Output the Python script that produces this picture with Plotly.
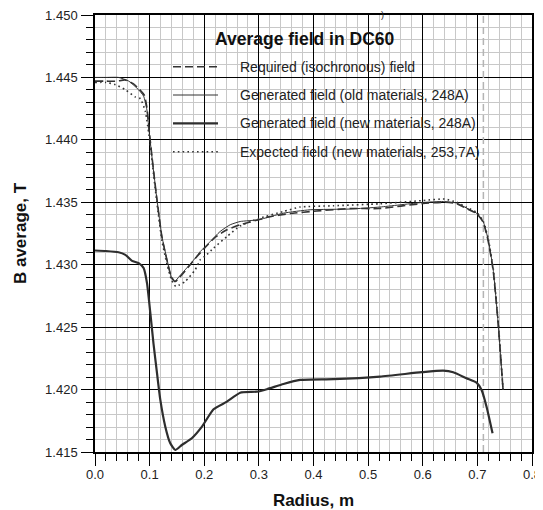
import plotly.graph_objects as go

# ---------------- data ----------------
r_required = [0, 0.02, 0.04, 0.055, 0.07, 0.08, 0.09, 0.095, 0.1, 0.107, 0.1135, 0.1226, 0.132, 0.14,
              0.147, 0.155, 0.165, 0.1835, 0.202, 0.22, 0.2415, 0.2658, 0.2993, 0.3146, 0.357, 0.406,
              0.467, 0.52, 0.6, 0.64, 0.662, 0.68, 0.6985, 0.7106, 0.7198, 0.729, 0.738, 0.747]
b_required = [1.4447, 1.4447, 1.4447, 1.4448, 1.4445, 1.4441, 1.4436, 1.4426, 1.4404, 1.4376, 1.4352,
              1.4322, 1.4303, 1.4290, 1.42865, 1.4290, 1.4295, 1.4305, 1.4314, 1.4322, 1.4328, 1.4332,
              1.4336, 1.4338, 1.4341, 1.4343, 1.4345, 1.4345, 1.4349, 1.4350, 1.4349, 1.4345, 1.4341,
              1.4334, 1.4319, 1.4295, 1.4253, 1.4200]

r_old = [0, 0.02, 0.043, 0.062, 0.08, 0.089, 0.095, 0.1, 0.107, 0.1135, 0.1226, 0.132, 0.1397, 0.1458,
         0.155, 0.165, 0.1835, 0.1927, 0.202, 0.211, 0.229, 0.2475, 0.2658, 0.2993, 0.345, 0.3938,
         0.467, 0.5217, 0.598, 0.6375, 0.662, 0.68, 0.6985, 0.7106, 0.7198, 0.729, 0.738, 0.747]
b_old = [1.4450, 1.4450, 1.4450, 1.4447, 1.4440, 1.4435, 1.4424, 1.4403, 1.4376, 1.4352, 1.43226,
         1.4304, 1.4290, 1.42865, 1.4291, 1.42959, 1.43053, 1.43106, 1.43146, 1.43186, 1.43266,
         1.4332, 1.43346, 1.4336, 1.43413, 1.4344, 1.43446, 1.43462, 1.43498, 1.43506, 1.43494,
         1.43454, 1.43413, 1.43346, 1.4320, 1.42959, 1.42532, 1.41997]

r_new = [0, 0.02, 0.043, 0.0556, 0.0678, 0.08, 0.089, 0.0952, 0.1013, 0.107, 0.1135, 0.1196, 0.1287,
         0.1378, 0.147, 0.159, 0.1772, 0.1958, 0.217, 0.2415, 0.2658, 0.2963, 0.3146, 0.345, 0.3755,
         0.4364, 0.5217, 0.598, 0.6375, 0.6558, 0.68, 0.6985, 0.7077, 0.7168, 0.7278]
b_new = [1.43114, 1.4311, 1.4310, 1.43079, 1.43031, 1.43013, 1.42973, 1.42852, 1.42612, 1.42371,
         1.42131, 1.41917, 1.41703, 1.4157, 1.41516, 1.41556, 1.4161, 1.41703, 1.41842, 1.41903,
         1.41975, 1.41983, 1.42003, 1.42045, 1.42077, 1.42083, 1.42104, 1.42139, 1.42152, 1.42139,
         1.42091, 1.42056, 1.41997, 1.41863, 1.4165]

r_expected = [0, 0.02, 0.0373, 0.0556, 0.0739, 0.083, 0.092, 0.1, 0.107, 0.1135, 0.1226, 0.132, 0.14,
              0.148, 0.155, 0.165, 0.1835, 0.1927, 0.202, 0.217, 0.2415, 0.2658, 0.2993, 0.345,
              0.3755, 0.4364, 0.5217, 0.6, 0.64, 0.662, 0.68, 0.6985, 0.7106, 0.7198, 0.729, 0.738, 0.747]
b_expected = [1.4446, 1.4446, 1.44442, 1.44402, 1.44343, 1.4433, 1.4423, 1.4400, 1.4373, 1.4349,
              1.4319, 1.4300, 1.4288, 1.42825, 1.4284, 1.42865, 1.4296, 1.43039, 1.4307, 1.43133,
              1.43226, 1.4331, 1.4337, 1.43426, 1.43462, 1.43472, 1.43488, 1.43514, 1.43526, 1.4350,
              1.4346, 1.4342, 1.4335, 1.4321, 1.4297, 1.4255, 1.4200]

limit_radius = 0.711

series_names = ["Required (isochronous) field",
                "Generated field (old materials, 248A)",
                "Generated field (new materials, 248A)",
                "Expected field (new materials, 253,7A)"]

x_range = [0, 0.8]
y_range = [1.415, 1.450]

# ---------------- styling ----------------
FONT = "Liberation Sans, Arial, sans-serif"
LINE_C = "#333333"
styles = [
    dict(color=LINE_C, width=1.6, dash="8px,4px"),
    dict(color=LINE_C, width=1.0, dash="solid"),
    dict(color="#2e2e2e", width=2.2, dash="solid"),
    dict(color=LINE_C, width=1.6, dash="1.6px,3.2px"),
]
data = [(r_required, b_required), (r_old, b_old), (r_new, b_new), (r_expected, b_expected)]

fig = go.Figure()

fig.add_trace(go.Scatter(x=[limit_radius, limit_radius], y=y_range, mode="lines",
                         line=dict(color="#b4b4b4", width=1.5, dash="7px,4px"),
                         showlegend=False, hoverinfo="skip"))

for (xs, ys), st, nm in zip(data, styles, series_names):
    fig.add_trace(go.Scatter(x=xs, y=ys, mode="lines", name=nm, line=st,
                             line_shape="spline", line_smoothing=0.5, showlegend=False))

# page body has an 8px default margin; figure is sized to compensate
OFF = 8
W, H = 543 - OFF, 510 - OFF
L, R, T, B = 95 - OFF, 11, 15 - OFF, 58
pw, ph = W - L - R, H - T - B

def px_x(p):  # page pixel -> paper x
    return (p - OFF - L) / pw

def px_y(p):  # page pixel -> paper y
    return 1 - (p - OFF - T) / ph

# manual legend (sample lines + labels)
shapes = []
annotations = []
rows = [66.7, 95, 123.3, 151.7]
for yy, st, nm in zip(rows, styles, series_names):
    shapes.append(dict(type="line", xref="paper", yref="paper",
                       x0=px_x(173), x1=px_x(218), y0=px_y(yy), y1=px_y(yy),
                       line=dict(color=st["color"], width=st["width"], dash=st["dash"])))
    annotations.append(dict(xref="paper", yref="paper", x=px_x(238), y=px_y(yy),
                            xanchor="left", yanchor="middle", showarrow=False, text=nm,
                            font=dict(family=FONT, size=14, color="#222222")))

annotations.append(dict(xref="paper", yref="paper", x=px_x(305), y=px_y(39),
                        xanchor="center", yanchor="middle", showarrow=False,
                        text="Average field in DC60",
                        font=dict(family=FONT, size=17.5, color="#111111", weight="bold")))
annotations.append(dict(xref="paper", yref="paper", x=px_x(386), y=px_y(8),
                        xanchor="right", yanchor="top", showarrow=False, text=")",
                        font=dict(family=FONT, size=9, color="#222222")))

axis_common = dict(showline=True, linecolor="black", linewidth=1.5, mirror=True,
                   ticks="outside", ticklen=12, tickwidth=1, tickcolor="black",
                   showgrid=True, gridcolor="#000000", gridwidth=1, zeroline=False,
                   automargin=False, ticklabeloverflow="allow",
                   tickfont=dict(family=FONT, size=13, color="#222222"))

fig.update_layout(
    width=W, height=H,
    margin=dict(l=L, r=R, t=T, b=B, autoexpand=False),
    paper_bgcolor="white", plot_bgcolor="white",
    showlegend=False,
    shapes=shapes, annotations=annotations,
    xaxis=dict(range=x_range, dtick=0.1, tick0=0, tickformat=".1f", ticklabelstandoff=-2,
               minor=dict(dtick=0.02, ticklen=7, tickcolor="black", ticks="outside",
                          showgrid=True, gridcolor="#c8c8c8", gridwidth=1),
               title=dict(text="Radius, m", standoff=14,
                          font=dict(family=FONT, size=17, color="#111111", weight="bold")),
               **axis_common),
    yaxis=dict(range=y_range, dtick=0.005, tick0=1.415, tickformat=".3f", ticklabelstandoff=1,
               minor=dict(dtick=0.001, ticklen=7, tickcolor="black", ticks="outside",
                          showgrid=True, gridcolor="#c8c8c8", gridwidth=1),
               title=dict(text="B average, T", standoff=14,
                          font=dict(family=FONT, size=17, color="#111111", weight="bold")),
               **axis_common),
)

fig.write_html("out.html")
